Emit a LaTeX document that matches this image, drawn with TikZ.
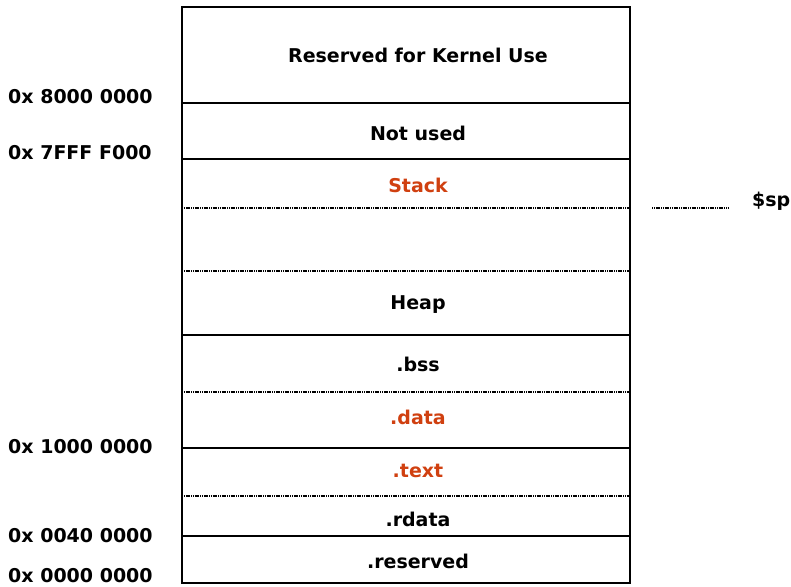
\documentclass[tikz,border=0pt]{standalone}
\usepackage{fontspec}
\setmainfont{DejaVu Sans}
\definecolor{seg}{RGB}{208,64,16}
\begin{document}
\begin{tikzpicture}[x=1pt,y=-1pt,
  lbl/.style={font=\bfseries\fontsize{19}{21}\selectfont, inner sep=0pt, anchor=center},
  addr/.style={lbl, anchor=west},
  hot/.style={lbl, text=seg},
  solidln/.style={line width=1.3pt},
  dotln/.style={line width=1.2pt, dash pattern=on 1.2pt off 0.6pt}]
\useasboundingbox (0,0) rectangle (791,586);
% box
\draw[solidln] (182,7) rectangle (630,583);
\draw[solidln] (182,103) -- (630,103);
\draw[solidln] (182,159) -- (630,159);
\draw[dotln] (182,208) -- (630,208);
\draw[dotln] (182,271) -- (630,271);
\draw[solidln] (182,335) -- (630,335);
\draw[dotln] (182,392) -- (630,392);
\draw[solidln] (182,448) -- (630,448);
\draw[dotln] (182,496) -- (630,496);
\draw[solidln] (182,536) -- (630,536);
% segment labels
\node[lbl] (kern) at (418,55) {Reserved for Kernel Use};
\node[lbl] (notused) at (418,133) {Not used};
\node[hot] (stack) at (418,185) {Stack};
\node[lbl] (heap) at (418,305) {Heap};
\node[lbl] (bss) at (418,364) {.bss};
\node[hot] (data) at (418,417) {.data};
\node[hot] (text) at (418,471) {.text};
\node[lbl] (rdata) at (418,519) {.rdata};
\node[lbl] (resv) at (418,561) {.reserved};
% addresses
\node[addr] (a1) at (8,97) {0x 8000 0000};
\node[addr] (a2) at (8,153) {0x 7FFF F000};
\node[addr] (a3) at (8,447) {0x 1000 0000};
\node[addr] (a4) at (8,536) {0x 0040 0000};
\node[addr] (a5) at (8,576) {0x 0000 0000};
% stack pointer
\node[lbl, anchor=west] (sp) at (752,201) {\$sp};
\coordinate (spa) at (652,208);
\coordinate (spb) at (728,208);
\draw[dotln] (spa) -- (spb);
\end{tikzpicture}
\end{document}
